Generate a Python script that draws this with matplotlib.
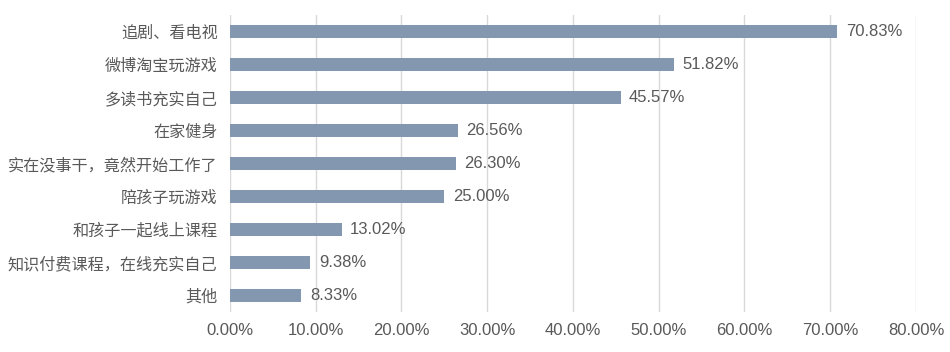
import matplotlib
matplotlib.use("Agg")
import matplotlib.pyplot as plt
from matplotlib.ticker import FuncFormatter

plt.rcParams['font.family'] = ['Liberation Sans', 'Noto Sans CJK SC', 'DejaVu Sans']

categories = ["追剧、看电视", "微博淘宝玩游戏", "多读书充实自己", "在家健身",
              "实在没事干，竟然开始工作了", "陪孩子玩游戏", "和孩子一起线上课程",
              "知识付费课程，在线充实自己", "其他"]
values = [70.83, 51.82, 45.57, 26.56, 26.30, 25.00, 13.02, 9.38, 8.33]
xticks = [0, 10, 20, 30, 40, 50, 60, 70, 80]

text_color = "#595959"
bar_color = "#8497B0"

fig = plt.figure(figsize=(9.5, 3.52), dpi=100)
ax = fig.add_axes([0.2421, 0.1136, 0.7221, 0.8438])

y = list(range(len(categories)))
ax.barh(y, values, height=0.37, color=bar_color, zorder=3)
for yi, v in zip(y, values):
    ax.annotate(f"{v:.2f}%", (v, yi), xytext=(6, 0), textcoords="offset points",
                va="center", ha="left", fontsize=12, color=text_color)

ax.set_xlim(0, 80)
ax.set_ylim(len(categories) - 0.5, -0.5)
ax.set_xticks(xticks)
ax.xaxis.set_major_formatter(FuncFormatter(lambda v, p: f"{v:.2f}%"))
ax.set_yticks(y)
ax.set_yticklabels(categories)
ax.tick_params(axis="both", length=0, labelsize=12, colors=text_color)
ax.tick_params(axis="y", labelsize=11.6, pad=9)
ax.tick_params(axis="x", pad=8)
ax.grid(axis="x", color="#D9D9D9", linewidth=1, zorder=0)
for s in ax.spines.values():
    s.set_visible(False)

fig.savefig("out.png", dpi=100)
